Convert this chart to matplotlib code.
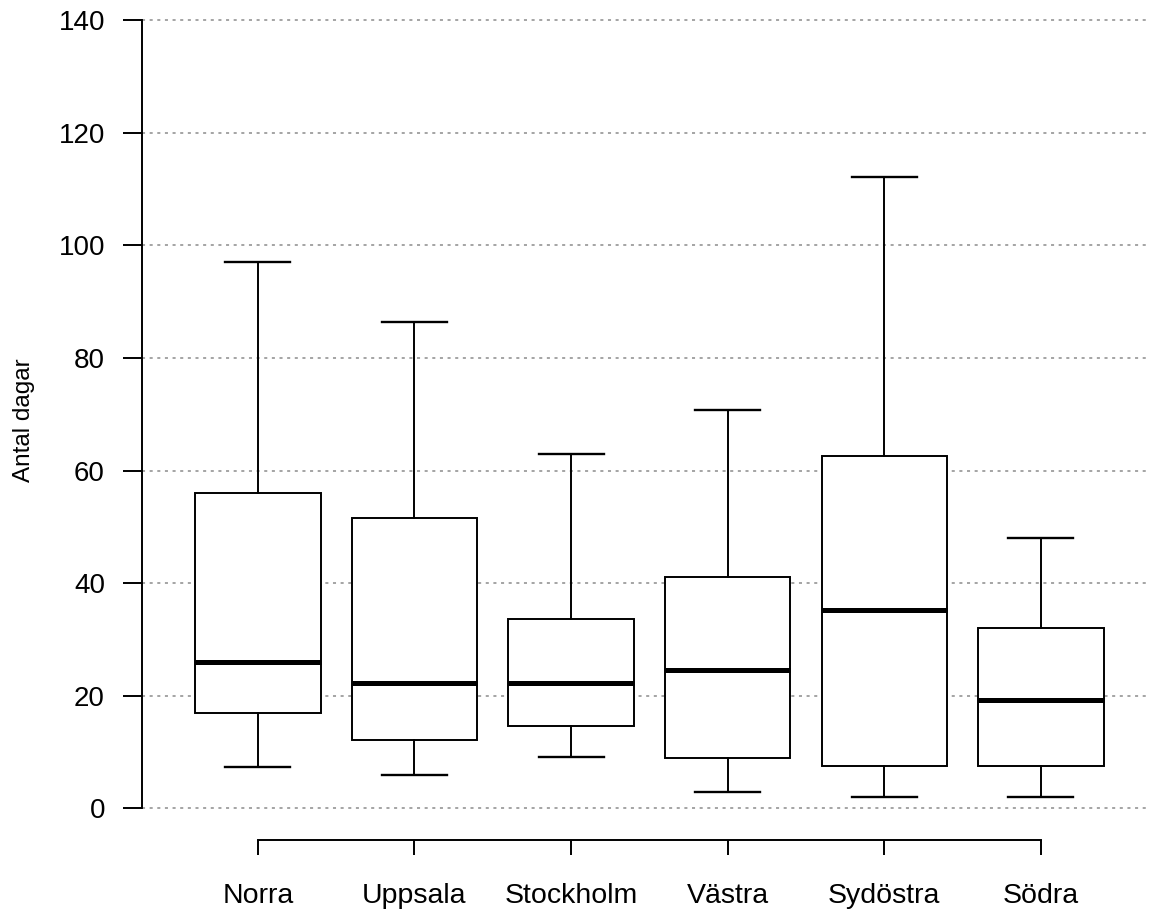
import matplotlib
matplotlib.use("Agg")
import matplotlib.pyplot as plt

plt.rcParams['font.family'] = ['Liberation Sans', 'DejaVu Sans']

# Data (days)
regioner = ['Norra', 'Uppsala', 'Stockholm', 'Västra', 'Sydöstra', 'Södra']
whisker_lo = [7.3, 6.0, 9.1, 3.0, 2.1, 2.1]
q1 = [17.0, 12.1, 14.7, 8.9, 7.5, 7.5]
median = [26.0, 22.2, 22.2, 24.5, 35.3, 19.2]
q3 = [56.1, 51.6, 33.7, 41.1, 62.6, 32.1]
whisker_hi = [97.0, 86.3, 62.9, 70.7, 112.1, 48.0]
yticks = [0, 20, 40, 60, 80, 100, 120, 140]

stats = []
for i, namn in enumerate(regioner):
    stats.append({'label': namn, 'whislo': whisker_lo[i], 'q1': q1[i],
                  'med': median[i], 'q3': q3[i], 'whishi': whisker_hi[i],
                  'fliers': []})

fig = plt.figure(figsize=(11.5, 9.11), dpi=100)
ax = fig.add_axes([142 / 1150, 71 / 911, 1 - 142 / 1150, 840 / 911])

# dotted grid lines
for t in yticks:
    ax.axhline(t, color='#8c8c8c', linestyle=(0, (2, 3)), linewidth=1.1, zorder=0)

pos = list(range(1, len(regioner) + 1))
ax.bxp(stats, positions=pos, widths=0.8, patch_artist=True, showfliers=False,
       boxprops=dict(facecolor='white', edgecolor='black', linewidth=1.4),
       medianprops=dict(color='black', linewidth=3.6, solid_capstyle='butt'),
       whiskerprops=dict(color='black', linewidth=1.4, linestyle='-'),
       capprops=dict(color='black', linewidth=1.7),
       capwidths=0.415, zorder=2)

ax.set_xlim(0.26, 0.26 + 1008 / 156.6)
ax.set_ylim(-5.6, 140 + 20 / 5.629)

ax.spines['top'].set_visible(False)
ax.spines['right'].set_visible(False)
ax.spines['left'].set_bounds(0, 140)
ax.spines['bottom'].set_bounds(1, 6)
ax.spines['left'].set_linewidth(1.4)
ax.spines['bottom'].set_linewidth(1.4)

ax.set_yticks(yticks)
ax.set_xticks(pos)
ax.set_xticklabels(regioner)
ax.tick_params(axis='y', length=13.7, width=1.4, pad=13, labelsize=20)
ax.tick_params(axis='x', length=10.8, width=1.4, pad=20, labelsize=20.5)

ax.set_ylabel('Antal dagar', fontsize=17.5)
ax.yaxis.set_label_coords(-107 / 1008, 0.5)

fig.savefig('out.png', dpi=100)
